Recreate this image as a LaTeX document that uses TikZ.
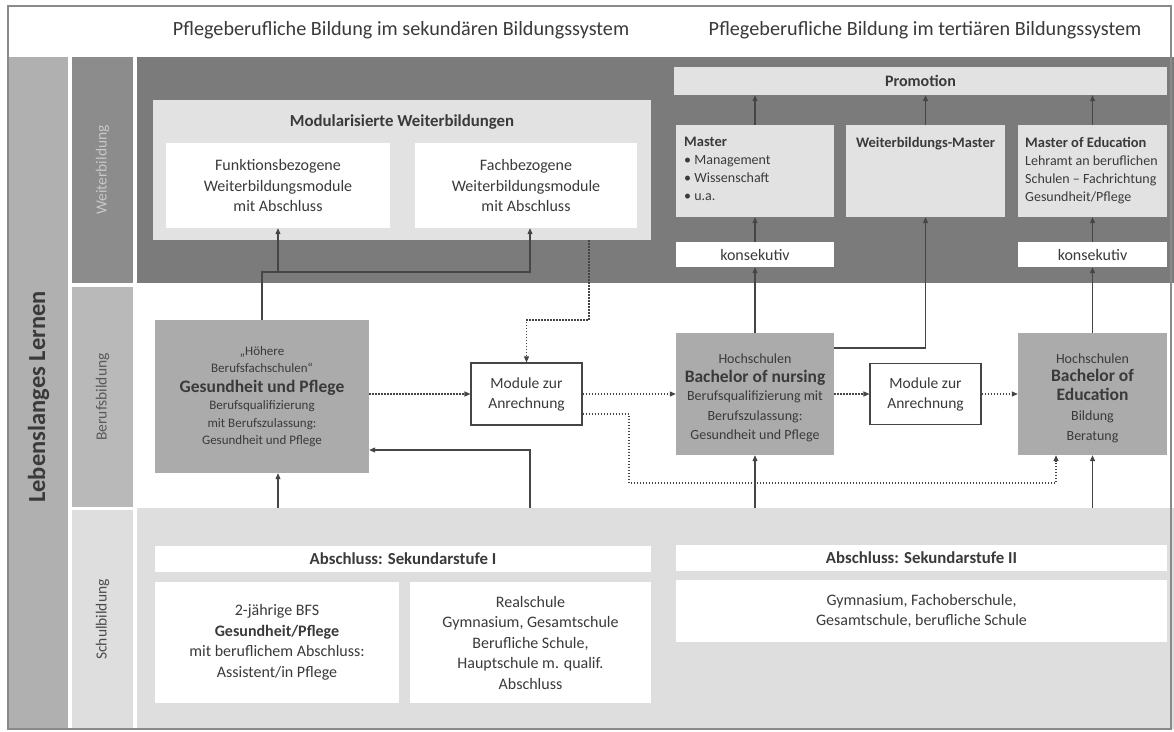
\documentclass[tikz,border=0pt]{standalone}
\usepackage{fontspec}
\setmainfont{Carlito}
\usetikzlibrary{arrows.meta,calc}
\definecolor{bandW}{HTML}{7B7B7B}
\definecolor{lblWc}{HTML}{8C8C8C}
\definecolor{lllc}{HTML}{B0B0B0}
\definecolor{lblBc}{HTML}{B9B9B9}
\definecolor{schulc}{HTML}{DEDEDE}
\definecolor{lightbox}{HTML}{E2E2E2}
\definecolor{midbox}{HTML}{ABABAB}
\definecolor{txt}{HTML}{3A3A3A}
\definecolor{ln}{HTML}{454545}
\definecolor{framec}{HTML}{8A8A8A}
\newcommand\bigtxt{\fontsize{17.5}{20}\selectfont\bfseries}
\begin{document}
\begin{tikzpicture}[x=1pt,y=-1pt,
  box/.style={rectangle, inner sep=0pt, align=center, text=txt},
  fs/.style={font=\fontsize{16}{20.5}\selectfont},
  fsmod/.style={font=\fontsize{15.5}{20}\selectfont},
  fsm/.style={font=\fontsize{14}{18}\selectfont},
  fsx/.style={font=\fontsize{14}{19.5}\selectfont},
  fsg/.style={font=\fontsize{13}{17.5}\selectfont},
  head/.style={font=\fontsize{16.8}{20}\selectfont\bfseries},
  lbl/.style={rotate=90, inner sep=0pt, font=\fontsize{15.5}{18}\selectfont},
  arr/.style={draw=ln, line width=1.1pt, -{Triangle[length=6pt,width=5pt]}},
  dotarr/.style={draw=ln, line width=1.2pt, dash pattern=on 1.4pt off 1.6pt, -{Triangle[length=6pt,width=5pt]}}
]
\useasboundingbox (0,0) rectangle (1174,731);
\fill[white] (0,0) rectangle (1174,731);

% titles
\node[text=txt, font=\fontsize{20.2}{24}\selectfont] (t1) at (401,30) {Pflegeberufliche Bildung im sekundären Bildungssystem};
\node[text=txt, font=\fontsize{20.2}{24}\selectfont] (t2) at (925,30) {Pflegeberufliche Bildung im tertiären Bildungssystem};

% left columns
\node[box, fill=lllc, minimum width=59, minimum height=672] (lll) at (38.5,393) {};
\node[rotate=90, text=txt, font=\fontsize{24.5}{30}\selectfont\bfseries] (lllt) at (38.5,397) {Lebenslanges Lernen};
\node[box, fill=lblWc, minimum width=61, minimum height=226] (lblW) at (102.5,170) {};
\node[lbl, text=white!78!black] (lblWt) at (102.5,170) {Weiterbildung};
\node[box, fill=lblBc, minimum width=61, minimum height=220] (lblB) at (102.5,397) {};
\node[lbl, text=black!65] (lblBt) at (102.5,397) {Berufsbildung};
\node[box, fill=schulc, minimum width=61, minimum height=219] (lblS) at (102.5,619.5) {};
\node[lbl, text=black!70] (lblSt) at (102.5,619.5) {Schulbildung};

% bands
\node[box, fill=bandW, minimum width=1037, minimum height=226] (weiter) at (655.5,170) {};
\node[box, fill=schulc, minimum width=1037, minimum height=221] (schul) at (655.5,618.5) {};

% Weiterbildung (secondary)
\node[box, fill=lightbox, minimum width=498, minimum height=140] (modw) at (402,170) {};
\node[box, head] (modwt) at (402,122) {Modularisierte Weiterbildungen};
\node[box, fs, fill=white, minimum width=224, minimum height=85] (funk) at (278,185.5) {Funktionsbezogene\\Weiterbildungsmodule\\mit Abschluss};
\node[box, fs, fill=white, minimum width=222, minimum height=85] (fach) at (526,185.5) {Fachbezogene\\Weiterbildungsmodule\\mit Abschluss};

% Weiterbildung (tertiary)
\node[box, fill=lightbox, minimum width=493, minimum height=28, font=\fontsize{16}{19}\selectfont\bfseries] (promo) at (920.5,81) {Promotion};
\node[box, fill=lightbox, minimum width=158, minimum height=92] (master) at (755,171) {};
\node[box, fsm, align=left, anchor=north west] (mastert) at (684,137) {\fontsize{14.5}{18}\selectfont\bfseries Master\\• Management\\• Wissenschaft\\• u.a.};
\node[box, fill=lightbox, minimum width=159, minimum height=92] (wmaster) at (925.5,171) {};
\node[box, fsm, anchor=north] (wmastert) at (925.5,137) {\fontsize{14.5}{18}\selectfont\bfseries Weiterbildungs-Master};
\node[box, fill=lightbox, minimum width=149, minimum height=92] (moe) at (1092.5,171) {};
\node[box, fsm, align=left, anchor=north west] (moet) at (1025,137) {\fontsize{14.5}{18}\selectfont\bfseries Master of Education\\Lehramt an beruflichen\\Schulen – Fachrichtung\\Gesundheit/Pflege};
\node[box, fs, fill=white, minimum width=158, minimum height=25] (kons1) at (755,254.5) {konsekutiv};
\node[box, fs, fill=white, minimum width=149, minimum height=25] (kons2) at (1092.5,254.5) {konsekutiv};

% Berufsbildung
\node[box, fill=midbox, minimum width=214, minimum height=153] (ges) at (262,396.5) {};
\node[box, fsg] (gest) at (262,396.5) {„Höhere\\Berufsfachschulen“\\[2pt]\bigtxt Gesundheit und Pflege\\[0pt]Berufsqualifizierung\\mit Berufszulassung:\\Gesundheit und Pflege};
\node[box, fsmod, fill=white, draw=ln, line width=1.1pt, minimum width=111, minimum height=62] (mod1) at (526.5,394) {Module zur\\Anrechnung};
\node[box, fill=midbox, minimum width=158, minimum height=122] (bn) at (755,394) {};
\node[box, fsx] (bnt) at (755,398) {Hochschulen\\[-1pt]\bigtxt Bachelor of nursing\\[-1pt]Berufsqualifizierung mit\\Berufszulassung:\\Gesundheit und Pflege};
\node[box, fsmod, fill=white, draw=ln, line width=1.1pt, minimum width=111, minimum height=61] (mod2) at (925.5,394) {Module zur\\Anrechnung};
\node[box, fill=midbox, minimum width=149, minimum height=122] (boe) at (1092.5,394) {};
\node[box, fsx] (boet) at (1092.5,398) {Hochschulen\\[-1pt]\bigtxt Bachelor of\\[-1pt]\bigtxt Education\\[1pt]Bildung\\Beratung};

% Schulbildung
\node[box, head, fill=white, minimum width=496, minimum height=26] (sek1) at (403,559) {Abschluss: Sekundarstufe I};
\node[box, fs, fill=white, minimum width=244, minimum height=121] (bfs) at (277,642.5) {2-jährige BFS\\\textbf{Gesundheit/Pflege}\\mit beruflichem Abschluss:\\Assistent/in Pflege};
\node[box, fs, fill=white, minimum width=241, minimum height=121] (real) at (530.5,642.5) {Realschule\\Gymnasium, Gesamtschule\\Berufliche Schule,\\Hauptschule m. qualif.\\Abschluss};
\node[box, head, fill=white, minimum width=491, minimum height=26] (sek2) at (921.5,558) {Abschluss: Sekundarstufe II};
\node[box, fs, fill=white, minimum width=491, minimum height=62] (gym) at (921.5,611) {Gymnasium, Fachoberschule,\\Gesamtschule, berufliche Schule};

% coordinates for connectors
\coordinate (j1) at (262,272);
\coordinate (j2) at (530,272);
\coordinate (j3) at (278,272);
\coordinate (d1) at (589,320);
\coordinate (d2) at (526.5,320);
\coordinate (d6) at (629,414);
\coordinate (d3) at (629,483);
\coordinate (d4) at (1056,483);
\coordinate (g1) at (530,450);
\coordinate (w1) at (925.5,348);
\coordinate (s1) at (278,0);

% solid connectors
\draw[arr] (ges.north -| j1) -- (j1) -- (j2) -- (j2 |- fach.south);
\draw[arr] (j3) -- (j3 |- funk.south);
\draw[arr] (schul.north -| s1) -- (s1 |- ges.south);
\draw[arr] (schul.north -| g1) -- (g1) -- (g1 -| ges.east);
\draw[arr] (schul.north -| bn.south) -- (bn.south);
\draw[arr] (schul.north -| boe.south) -- (boe.south);
\draw[arr] (bn.north) -- (kons1.south);
\draw[arr] (kons1.north) -- (master.south);
\draw[arr] (master.north) -- (master.north |- promo.south);
\draw[arr] (bn.east |- w1) -- (w1) -- (wmaster.south);
\draw[arr] (wmaster.north) -- (wmaster.north |- promo.south);
\draw[arr] (boe.north) -- (kons2.south);
\draw[arr] (kons2.north) -- (moe.south);
\draw[arr] (moe.north) -- (moe.north |- promo.south);

% dotted connectors
\draw[dotarr] (d1 |- modw.south) -- (d1) -- (d2) -- (mod1.north);
\draw[dotarr] (ges.east |- mod1.west) -- (mod1.west);
\draw[dotarr] (mod1.east) -- (mod1.east -| bn.west);
\draw[dotarr] (mod1.east |- d6) -- (d6) -- (d3) -- (d4) -- (d4 |- boe.south);
\draw[dotarr] (bn.east |- mod2.west) -- (mod2.west);
\draw[dotarr] (mod2.east) -- (mod2.east -| boe.west);

% frame
\draw[framec, line width=1.2pt] (8,6) rectangle (1171,729);
\end{tikzpicture}
\end{document}
